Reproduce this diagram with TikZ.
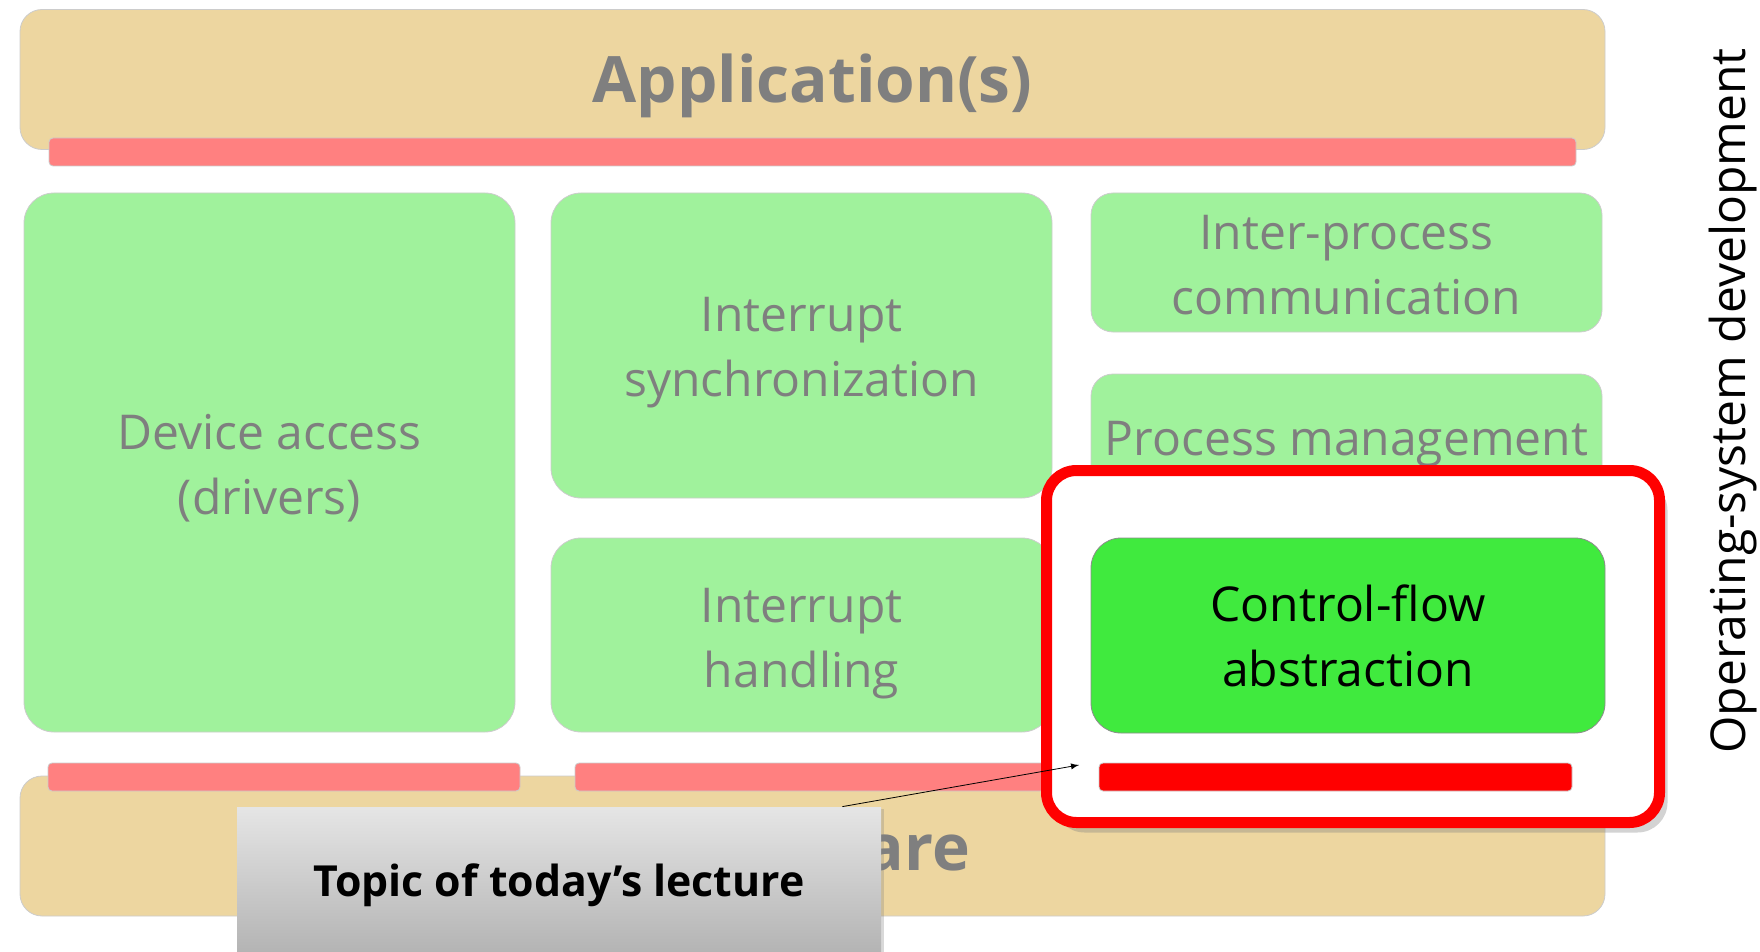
\documentclass[tikz,border=0pt]{standalone}
\usepackage{fontspec}
\setmainfont{Open Sans}
\usetikzlibrary{positioning, shadows}

\definecolor{layertan}{HTML}{EDD6A0}
\definecolor{barsalmon}{HTML}{FF8080}
\definecolor{partgreen}{HTML}{A0F29C}
\definecolor{focusgreen}{HTML}{40EA3E}
\definecolor{textgray}{HTML}{7F7F7F}

\begin{document}
\begin{tikzpicture}[x=0.5pt, y=-0.5pt,
  layer/.style={draw=black!20, fill=layertan, rounded corners=11pt, minimum width=792.5pt, minimum height=70pt, inner sep=0pt},
  layertext/.style={text=textgray, font=\fontsize{32}{38}\selectfont\bfseries},
  bar/.style={draw=black!20, fill=barsalmon, rounded corners=2pt, minimum height=14pt, inner sep=0pt},
  part/.style={draw=black!20, fill=partgreen, rounded corners=15pt, inner sep=0pt},
  parttext/.style={align=center, inner sep=0pt, text=textgray, font=\fontsize{24}{32.5}\selectfont}]
  \useasboundingbox (0,0) rectangle (1760,952);

  % layers
  \node[layer, label={[layertext, yshift=-3.4pt]center:Application(s)}] (app) at (812.5,79.5) {};
  \node[bar, minimum width=763.5pt] (appbar) at (812.5,152) {};

  % green parts
  \node[part, minimum width=245.5pt, minimum height=269.5pt, label={[parttext, yshift=-2.8pt]center:{Device access\\(drivers)}}] (dev) at (269.5,462.5) {};
  \node[part, minimum width=250.5pt, minimum height=152.5pt, label={[parttext, yshift=-3.4pt]center:{Interrupt\\synchronization}}] (isync) at (801.5,345.5) {};
  \node[part, minimum width=250.5pt, minimum height=97pt, label={[parttext, yshift=-4.2pt]center:{Interrupt\\handling}}] (ihand) at (801.5,635) {};
  \node[part, rounded corners=11pt, minimum width=255.5pt, minimum height=69.5pt, label={[parttext, yshift=-1.1pt]center:{Inter-process\\communication}}] (ipc) at (1346.5,262.5) {};
  \node[part, rounded corners=11pt, minimum width=255.5pt, minimum height=62pt, label={[parttext, yshift=-3.9pt]center:Process management}] (proc) at (1346.5,436) {};

  \node[layer, label={[layertext]center:Hardware}] (hw) at (812.5,846) {};
  \node[bar, minimum width=236pt] (devbar) at (284,777) {};
  \node[bar, minimum width=237.5pt] (irqbar) at (812.5,777) {};

  % highlighted part
  \node[draw=red, line width=5.5pt, fill=white, rounded corners=15pt, minimum width=306.5pt, minimum height=176pt,
        drop shadow={shadow xshift=4pt, shadow yshift=-5pt, opacity=0.35}] (focus) at (1353,646.5) {};
  \node[part, fill=focusgreen, draw=black!45, minimum width=257pt, minimum height=97.5pt,
        label={[parttext, text=black]center:{Control-flow\\abstraction}}] (cfa) at (1348,635.5) {};
  \node[bar, fill=red, minimum width=236.5pt] (cfabar) at (1335.5,777) {};

  % callout
  \node[top color=black!10, bottom color=black!30, draw=none, minimum width=322pt, minimum height=74.5pt, inner sep=0pt,
        drop shadow={shadow xshift=1.5pt, shadow yshift=-1pt, opacity=0.3},
        label={[font=\fontsize{21.4}{26}\selectfont\bfseries, yshift=-2pt]center:Topic of today’s lecture}] (topic) at (559,881.5) {};
  \coordinate (tip) at (1079,765);
  \draw[-latex, thin] ([xshift=-19.5pt]topic.north east) -- (tip);

  \node[rotate=90, font=\fontsize{24}{29}\selectfont] (osdev) at (1733,401) {Operating-system development};
\end{tikzpicture}
\end{document}
